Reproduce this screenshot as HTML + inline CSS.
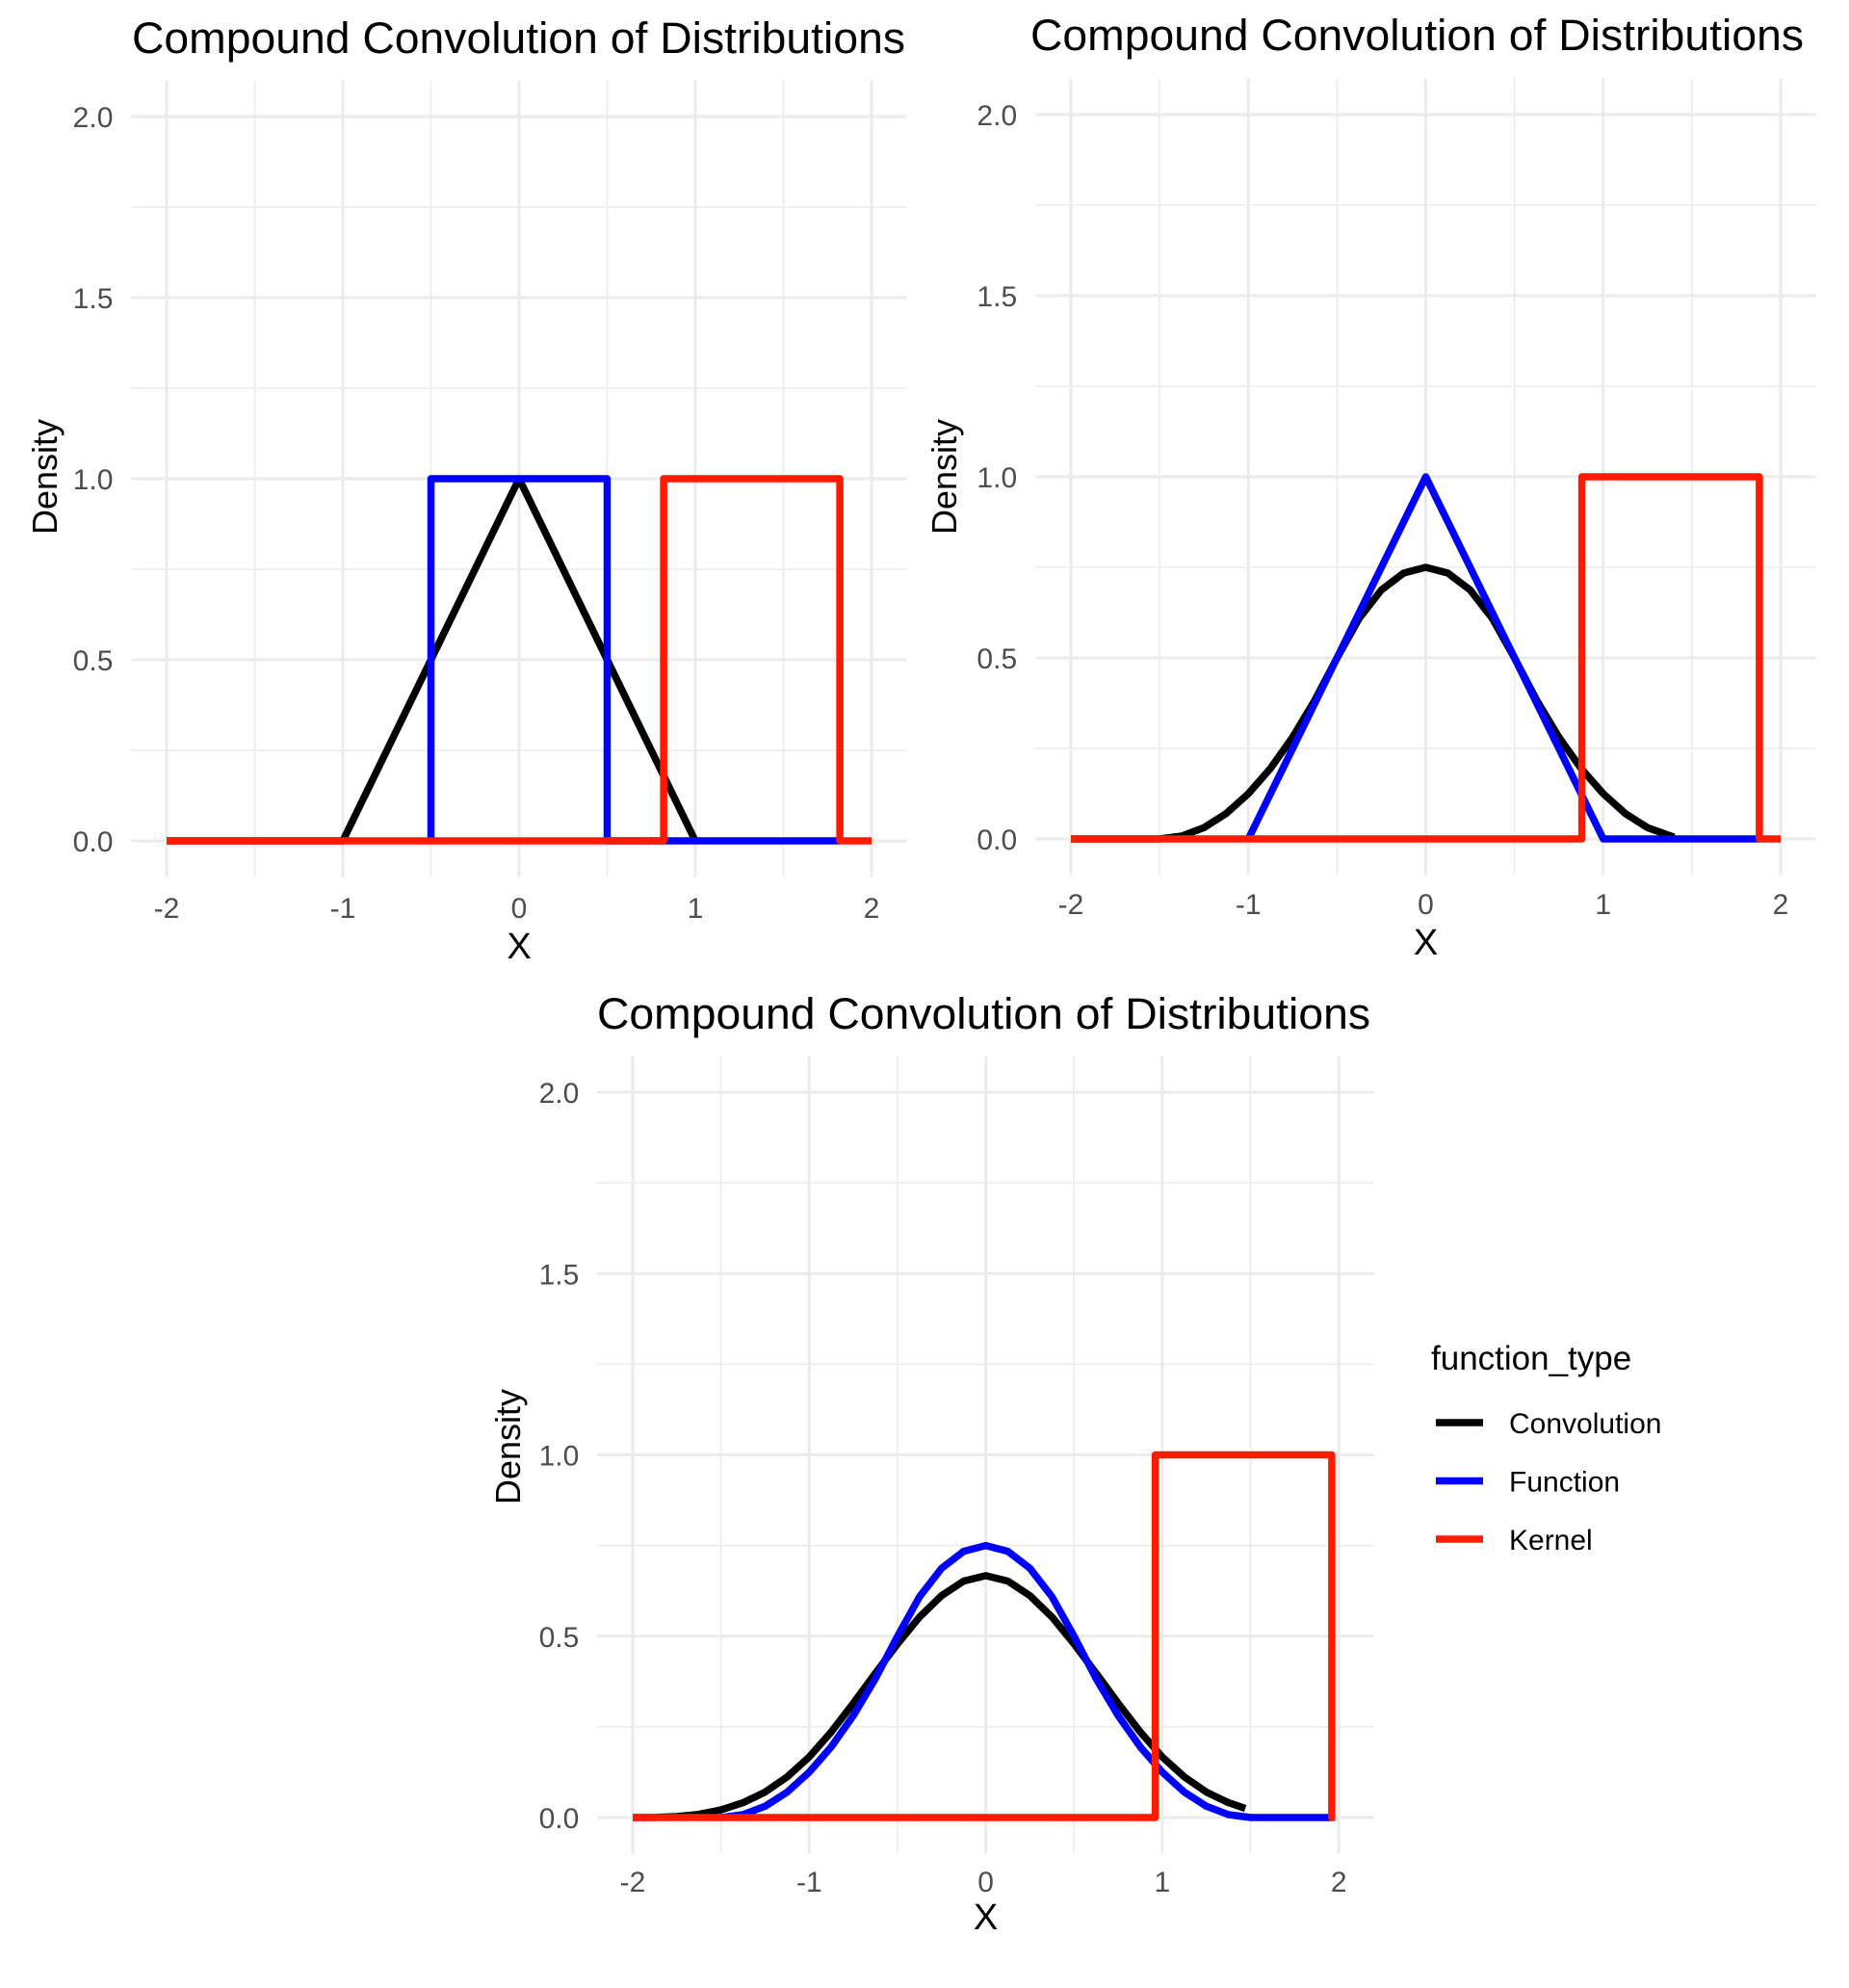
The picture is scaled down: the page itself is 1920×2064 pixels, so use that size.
<!DOCTYPE html>
<html><head><meta charset="utf-8"><style>
html,body{margin:0;padding:0;background:#fff;}
svg{display:block;font-family:"Liberation Sans",Arial,sans-serif;}
</style></head><body>
<svg id="chart" width="1920" height="2064" viewBox="0 0 1920 2064" xmlns="http://www.w3.org/2000/svg">
<rect x="0" y="0" width="1920" height="2064" fill="#fff"/>
</svg>
<script>
// ---- data ----
const xTicks = [-2, -1, 0, 1, 2];
const xTickLabels = ["-2", "-1", "0", "1", "2"];
const yTicks = [0, 0.5, 1.0, 1.5, 2.0];
const yTickLabels = ["0.0", "0.5", "1.0", "1.5", "2.0"];
const xMinor = [-1.5, -0.5, 0.5, 1.5];
const yMinor = [0.25, 0.75, 1.25, 1.75];
const seriesNames = ["Convolution", "Function", "Kernel"];

// Panel 1
const p1ConvX = [-2, -1, 0, 1];
const p1ConvY = [0, 0, 1, 0];
const p1FuncX = [-0.5, -0.5, 0.5, 0.5, 1.82];
const p1FuncY = [0, 1, 1, 0, 0];
const p1KernX = [-2, 0.82, 0.82, 1.82, 1.82, 2];
const p1KernY = [0, 0, 1, 1, 0, 0];
// Panel 2
const p2ConvX = [-2, -1.5, -1.375, -1.25, -1.125, -1, -0.875, -0.75, -0.625, -0.5, -0.375, -0.25, -0.125, 0, 0.125, 0.25, 0.375, 0.5, 0.625, 0.75, 0.875, 1, 1.125, 1.25, 1.4];
const p2ConvY = [0, 0, 0.008, 0.031, 0.070, 0.125, 0.195, 0.281, 0.383, 0.5, 0.609, 0.6875, 0.734, 0.75, 0.734, 0.6875, 0.609, 0.5, 0.383, 0.281, 0.195, 0.125, 0.070, 0.031, 0.005];
const p2FuncX = [-1, 0, 1, 1.88];
const p2FuncY = [0, 1, 0, 0];
const p2KernX = [-2, 0.88, 0.88, 1.88, 1.88, 2];
const p2KernY = [0, 0, 1, 1, 0, 0];
// Panel 3
const p3ConvX = [-2, -1.875, -1.75, -1.625, -1.5, -1.375, -1.25, -1.125, -1, -0.875, -0.75, -0.625, -0.5, -0.375, -0.25, -0.125, 0, 0.125, 0.25, 0.375, 0.5, 0.625, 0.75, 0.875, 1, 1.125, 1.25, 1.375, 1.47];
const p3ConvY = [0, 0.0003, 0.0026, 0.0088, 0.021, 0.041, 0.070, 0.112, 0.167, 0.236, 0.315, 0.398, 0.479, 0.553, 0.612, 0.652, 0.667, 0.652, 0.612, 0.553, 0.479, 0.398, 0.315, 0.236, 0.167, 0.112, 0.070, 0.041, 0.025];
const p3FuncX = [-1.5, -1.375, -1.25, -1.125, -1, -0.875, -0.75, -0.625, -0.5, -0.375, -0.25, -0.125, 0, 0.125, 0.25, 0.375, 0.5, 0.625, 0.75, 0.875, 1, 1.125, 1.25, 1.375, 1.5, 1.96];
const p3FuncY = [0, 0.008, 0.031, 0.070, 0.125, 0.195, 0.281, 0.383, 0.5, 0.609, 0.6875, 0.734, 0.75, 0.734, 0.6875, 0.609, 0.5, 0.383, 0.281, 0.195, 0.125, 0.070, 0.031, 0.008, 0, 0];
const p3KernX = [-2, 0.96, 0.96, 1.96, 1.96, 1.98];
const p3KernY = [0, 0, 1, 1, 0, 0];

const NS = "http://www.w3.org/2000/svg";
const svg = document.getElementById("chart");
function mk(tag, attrs, parent) {
  const e = document.createElementNS(NS, tag);
  for (const k in attrs) e.setAttribute(k, attrs[k]);
  (parent || svg).appendChild(e);
  return e;
}
const colors = {Convolution: "#000000", Function: "#0000ff", Kernel: "#ff1a00"};

const panels = [
  {id: "panel-1", x0: 173, xs: 183, y0: 873, ys: 376, titleX: 137, titleY: 55, tickY: 953, xTitleY: 995, yTitleX: 46, yTitleY: 495,
   series: [[p1ConvX, p1ConvY], [p1FuncX, p1FuncY], [p1KernX, p1KernY]]},
  {id: "panel-2", x0: 1112, xs: 184.25, y0: 871, ys: 376, titleX: 1070, titleY: 52, tickY: 949, xTitleY: 991, yTitleX: 980, yTitleY: 495,
   series: [[p2ConvX, p2ConvY], [p2FuncX, p2FuncY], [p2KernX, p2KernY]]},
  {id: "panel-3", x0: 657, xs: 183.3, y0: 1887, ys: 376.5, titleX: 620, titleY: 1068, tickY: 1964, xTitleY: 2003, yTitleX: 527, yTitleY: 1502,
   series: [[p3ConvX, p3ConvY], [p3FuncX, p3FuncY], [p3KernX, p3KernY]]}
];

panels.forEach(p => {
  const g = mk("g", {});
  
  
  const X = v => p.x0 + (v + 2) * p.xs;
  const Y = v => p.y0 - v * p.ys;
  const L = X(-2.2), R = X(2.2), T = Y(2.1), B = Y(-0.1);
  xMinor.forEach(v => {
    const l = mk("line", {x1: X(v), x2: X(v), y1: T, y2: B, stroke: "#ebebeb", "stroke-width": 1.5}, g);
    
    
  });
  yMinor.forEach(v => {
    const l = mk("line", {x1: L, x2: R, y1: Y(v), y2: Y(v), stroke: "#ebebeb", "stroke-width": 1.5}, g);
    
    
  });
  xTicks.forEach((v, i) => {
    const l = mk("line", {x1: X(v), x2: X(v), y1: T, y2: B, stroke: "#ebebeb", "stroke-width": 3}, g);
    
    
    const t = mk("text", {x: X(v), y: p.tickY, "text-anchor": "middle", "font-size": 30, fill: "#4d4d4d"}, g);
    t.textContent = xTickLabels[i];
    
    
  });
  yTicks.forEach((v, i) => {
    const l = mk("line", {x1: L, x2: R, y1: Y(v), y2: Y(v), stroke: "#ebebeb", "stroke-width": 3}, g);
    
    
    const t = mk("text", {x: L - 19, y: Y(v) + 11, "text-anchor": "end", "font-size": 30, fill: "#4d4d4d"}, g);
    t.textContent = yTickLabels[i];
    
    
  });
  p.series.forEach((s, si) => {
    const pts = s[0].map((xv, k) => X(xv).toFixed(1) + "," + Y(s[1][k]).toFixed(1)).join(" ");
    const pl = mk("polyline", {points: pts, fill: "none", stroke: colors[seriesNames[si]], "stroke-width": 7.5, "stroke-linejoin": "round"}, g);
    
    
  });
  const title = mk("text", {x: p.titleX, y: p.titleY, "font-size": 45, fill: "#000", textLength: 803, lengthAdjust: "spacingAndGlyphs"}, g);
  title.textContent = "Compound Convolution of Distributions";
  
  
  const xt = mk("text", {x: X(0), y: p.xTitleY, "text-anchor": "middle", "font-size": 38, fill: "#000"}, g);
  xt.textContent = "X";
  
  
  const yt = mk("text", {x: p.yTitleX, y: p.yTitleY, "text-anchor": "middle", "font-size": 36, fill: "#000", transform: "rotate(-90 " + (p.yTitleX) + " " + p.yTitleY + ") translate(0 13)"}, g);
  yt.textContent = "Density";
  
  
});

// Legend
const lg = mk("g", {});


const lt = mk("text", {x: 1486, y: 1422, "font-size": 35, fill: "#000"}, lg);
lt.textContent = "function_type";


seriesNames.forEach((n, i) => {
  const y = 1477 + i * 60.5;
  const l = mk("line", {x1: 1491, x2: 1540, y1: y, y2: y, stroke: colors[n], "stroke-width": 7.5}, lg);
  
  
  const t = mk("text", {x: 1567, y: y + 11, "font-size": 30, fill: "#000"}, lg);
  t.textContent = n;
  
  
});
</script>
</body></html>
